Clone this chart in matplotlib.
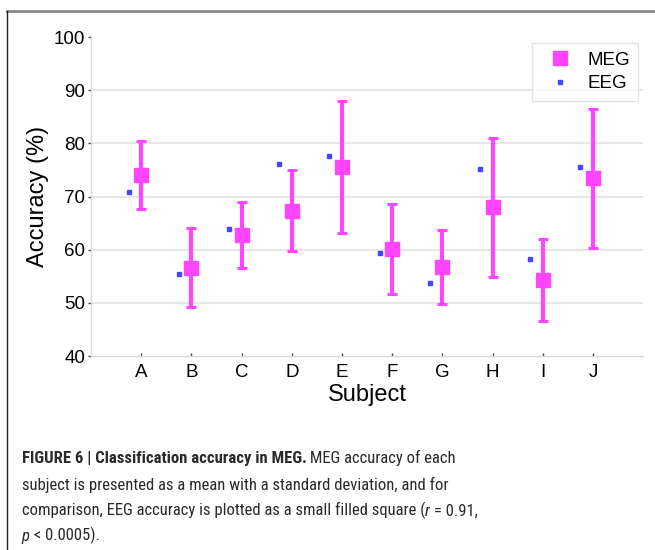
import matplotlib
matplotlib.use('Agg')
import matplotlib.pyplot as plt
from matplotlib.lines import Line2D
import numpy as np

subjects = ['A', 'B', 'C', 'D', 'E', 'F', 'G', 'H', 'I', 'J']
meg_mean = [74.0, 56.6, 62.8, 67.3, 75.6, 60.2, 56.8, 68.0, 54.3, 73.4]
meg_sd = [6.4, 7.4, 6.2, 7.6, 12.45, 8.45, 6.95, 13.05, 7.65, 13.0]
eeg_acc = [70.8, 55.5, 63.8, 76.2, 77.6, 59.3, 53.8, 75.1, 58.2, 75.5]

magenta = '#ff45ff'
blue = '#4646ff'
caption_font = ['Roboto Condensed', 'DejaVu Sans']

plt.rcParams['font.family'] = ['Liberation Sans', 'DejaVu Sans']

fig = plt.figure(figsize=(6.55, 5.5), dpi=100)
ax = fig.add_axes([0.139, 0.3527, 0.843, 0.58])

x = np.arange(1, len(subjects) + 1)
ax.errorbar(x, meg_mean, yerr=meg_sd, fmt='s', color=magenta, ecolor=magenta,
            elinewidth=3.0, capsize=3.3, capthick=2.2, markersize=10, zorder=3)
ax.plot(x - 0.25, eeg_acc, 's', color=blue, markersize=3, linestyle='none', zorder=3)

ax.set_xlim(0, 11)
ax.set_ylim(40, 100)
ax.set_yticks(np.arange(40, 101, 10))
ax.set_xticks(x)
ax.set_xticklabels(subjects)
for v in range(50, 100, 10):
    ax.axhline(v, color='#e3e3e3', linewidth=1.2, zorder=0)

for side in ['top', 'right']:
    ax.spines[side].set_visible(False)
for side in ['left', 'bottom']:
    ax.spines[side].set_color('#d8d8d8')
    ax.spines[side].set_linewidth(1.0)

ax.tick_params(axis='y', direction='out', length=2, width=1, color='#444444',
               labelsize=13.5, pad=2)
ax.tick_params(axis='x', direction='in', length=2, width=1, color='#444444',
               labelsize=13.5, pad=6)
ax.set_ylabel('Accuracy (%)', fontsize=17, labelpad=4)
ax.set_xlabel('Subject', fontsize=17, labelpad=2)

handles = [Line2D([], [], marker='s', color=magenta, markersize=10, linestyle='none'),
           Line2D([], [], marker='s', color=blue, markersize=3, linestyle='none')]
leg = ax.legend(handles, ['MEG', 'EEG'], loc='upper right',
                bbox_to_anchor=(0.991, 0.981), fontsize=13.5,
                frameon=True, fancybox=False, edgecolor='#dddddd',
                borderpad=0.45, handletextpad=0.4, labelspacing=0.35,
                handlelength=2.1, borderaxespad=0)
leg.get_frame().set_linewidth(1.0)

# figure frame
fig.add_artist(Line2D([0.0107, 1.0], [0.98, 0.98], transform=fig.transFigure,
                      color='#8a8a8a', linewidth=2))
fig.add_artist(Line2D([0.0107, 0.0107], [0.0, 0.98], transform=fig.transFigure,
                      color='#222222', linewidth=1))


def caption_line(y, parts):
    prev = None
    for txt, weight, style in parts:
        kw = dict(fontsize=12.0, fontweight=weight, fontstyle=style,
                  family=caption_font, color='#2a2a2a', va='bottom', ha='left')
        if prev is None:
            prev = fig.text(0.033, y, txt, **kw)
        else:
            prev = fig.add_artist(plt.Annotation(txt, xy=(1, 0), xycoords=prev, **kw))


caption_line(0.152, [('FIGURE 6 | Classification accuracy in MEG.', 'bold', 'normal'),
                     (' MEG accuracy of each', 'normal', 'normal')])
caption_line(0.104, [('subject is presented as a mean with a standard deviation, and for',
                      'normal', 'normal')])
caption_line(0.056, [('comparison, EEG accuracy is plotted as a small filled square (', 'normal', 'normal'),
                     ('r', 'normal', 'italic'),
                     (' = 0.91,', 'normal', 'normal')])
caption_line(0.01, [('p', 'normal', 'italic'),
                    (' < 0.0005).', 'normal', 'normal')])

fig.savefig('out.png', dpi=100)
